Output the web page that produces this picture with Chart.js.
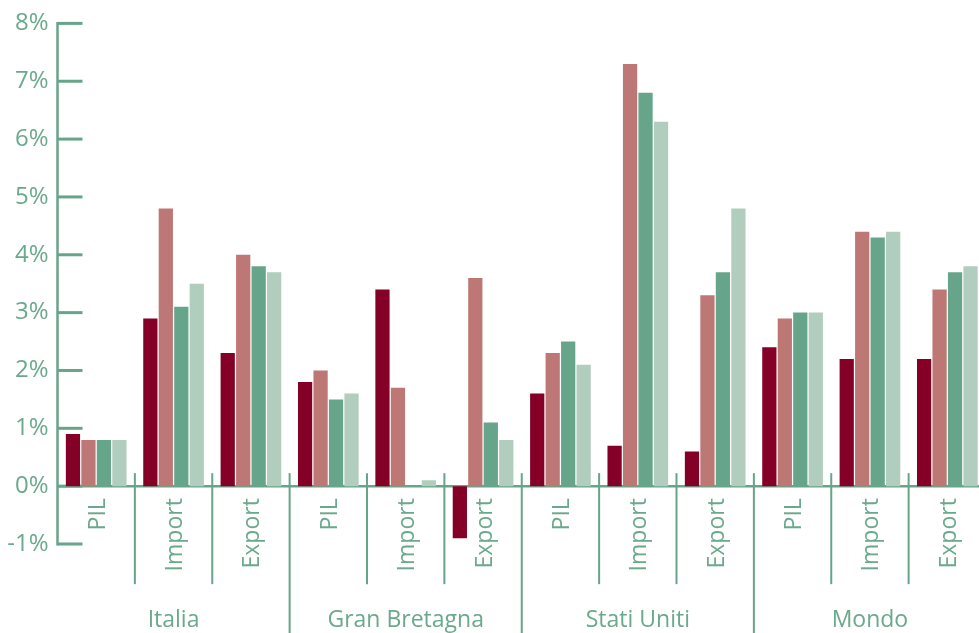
<!DOCTYPE html>
<html><head><meta charset="utf-8">
<script src="https://cdn.jsdelivr.net/npm/chart.js@4/dist/chart.umd.min.js"></script>
<style>html,body{margin:0;padding:0;background:#fff;overflow:hidden}
#wrap{width:979px;height:633px;overflow:hidden;position:relative;background:#fff}
canvas{display:block}
</style></head><body><div id="wrap"><canvas id="c" width="986" height="633" style="width:986px;height:633px"></canvas></div>
<script>
const groups = ['Italia', 'Gran Bretagna', 'Stati Uniti', 'Mondo'];
const categories = ['PIL', 'Import', 'Export', 'PIL', 'Import', 'Export', 'PIL', 'Import', 'Export', 'PIL', 'Import', 'Export'];
const serie1 = [0.9, 2.9, 2.3, 1.8, 3.4, -0.9, 1.6, 0.7, 0.6, 2.4, 2.2, 2.2];
const serie2 = [0.8, 4.8, 4.0, 2.0, 1.7, 3.6, 2.3, 7.3, 3.3, 2.9, 4.4, 3.4];
const serie3 = [0.8, 3.1, 3.8, 1.5, 0.0, 1.1, 2.5, 6.8, 3.7, 3.0, 4.3, 3.7];
const serie4 = [0.8, 3.5, 3.7, 1.6, 0.1, 0.8, 2.1, 6.3, 4.8, 3.0, 4.4, 3.8];
const yTicks = [-1, 0, 1, 2, 3, 4, 5, 6, 7, 8];

const AX = '#67a58a';
const TXT = '#6ba98d';
const FONT = '"Open Sans", sans-serif';

const deco = {
  id: 'deco',
  beforeDatasetsDraw(chart) {
    const { ctx, chartArea: a, scales: { y } } = chart;
    ctx.save();
    ctx.strokeStyle = AX;
    ctx.lineCap = 'butt';
    ctx.lineWidth = 2.5;
    ctx.beginPath();
    ctx.moveTo(a.left, y.getPixelForValue(yTicks[yTicks.length - 1]) - 1.5);
    ctx.lineTo(a.left, y.getPixelForValue(yTicks[0]) + 1.5);
    ctx.stroke();
    ctx.lineWidth = 3;
    yTicks.forEach(t => {
      const py = y.getPixelForValue(t);
      ctx.beginPath();
      ctx.moveTo(a.left, py);
      ctx.lineTo(a.left + 25, py);
      ctx.stroke();
    });
    const y0 = y.getPixelForValue(0);
    ctx.lineWidth = 2.5;
    ctx.beginPath();
    ctx.moveTo(a.left, y0);
    ctx.lineTo(a.right, y0);
    ctx.stroke();
    ctx.restore();
  },
  afterDraw(chart) {
    const { ctx, chartArea: a, scales: { x, y } } = chart;
    const y0 = y.getPixelForValue(0);
    const n = categories.length;
    const step = x.getPixelForValue(1) - x.getPixelForValue(0);
    ctx.save();
    ctx.strokeStyle = AX;
    ctx.lineWidth = 2;
    for (let i = 1; i <= n; i++) {
      const bx = x.getPixelForValue(i - 1) + step / 2;
      const isGroup = i % 3 === 0;
      ctx.beginPath();
      ctx.moveTo(bx, y0 - 13);
      ctx.lineTo(bx, isGroup ? chart.height : y0 + 98);
      ctx.stroke();
    }
    ctx.fillStyle = TXT;
    ctx.font = '23px ' + FONT;
    categories.forEach((c, i) => {
      const cx = x.getPixelForValue(i);
      ctx.save();
      ctx.translate(cx + 1, y0 + 12);
      ctx.rotate(-Math.PI / 2);
      ctx.textAlign = 'right';
      ctx.textBaseline = 'middle';
      ctx.fillText(c, 0, 1);
      ctx.restore();
    });
    ctx.font = '23px ' + FONT;
    ctx.textAlign = 'center';
    ctx.textBaseline = 'middle';
    groups.forEach((g, gi) => {
      const l = x.getPixelForValue(gi * 3) - step / 2;
      const r = x.getPixelForValue(gi * 3 + 2) + step / 2;
      ctx.fillText(g, (l + r) / 2, y0 + 134);
    });
    ctx.restore();
  }
};

new Chart(document.getElementById('c'), {
  type: 'bar',
  data: {
    labels: categories,
    datasets: [
      { label: 'Serie 1', data: serie1, backgroundColor: '#850026' },
      { label: 'Serie 2', data: serie2, backgroundColor: '#bd7775' },
      { label: 'Serie 3', data: serie3, backgroundColor: '#67a58a' },
      { label: 'Serie 4', data: serie4, backgroundColor: '#b1cdbe' }
    ]
  },
  options: {
    responsive: false,
    devicePixelRatio: 1,
    animation: false,
    layout: { padding: { top: 19, bottom: 89, left: 0, right: 0 } },
    datasets: { bar: { categoryPercentage: 0.8, barPercentage: 0.92, borderWidth: 0 } },
    plugins: { legend: { display: false }, tooltip: { enabled: false } },
    scales: {
      x: { display: false },
      y: {
        min: -1, max: 8,
        afterFit: s => { s.width = 57.5; },
        afterBuildTicks: s => { s.ticks = yTicks.map(v => ({ value: v })); },
        ticks: {
          callback: v => v + '%',
          color: TXT,
          font: { family: FONT, size: 24 },
          padding: 9
        },
        grid: { display: false, drawTicks: false, tickLength: 0 },
        border: { display: false }
      }
    }
  },
  plugins: [deco]
});
</script></body></html>
